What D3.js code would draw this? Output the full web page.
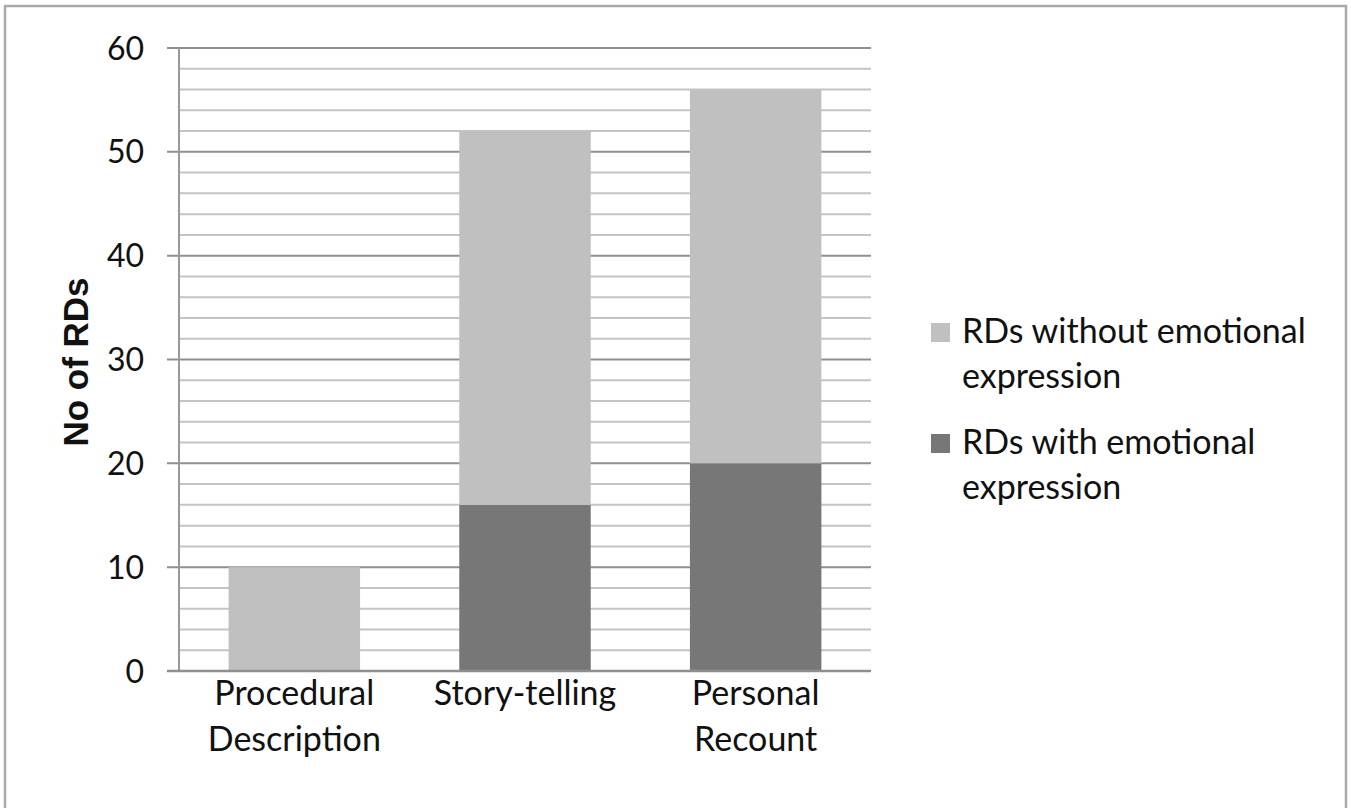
<!DOCTYPE html>
<html>
<head>
<meta charset="utf-8">
<script src="https://cdn.jsdelivr.net/npm/d3@7"></script>
<style>
  html, body { margin: 0; padding: 0; background: #fff; }
  svg { display: block; }
</style>
</head>
<body>
<svg id="chart"></svg>
<script>
const categories = [["Procedural", "Description"], ["Story-telling"], ["Personal", "Recount"]];
const withEmotion = [0, 16, 20];
const withoutEmotion = [10, 36, 36];
const seriesNames = ["RDs without emotional expression", "RDs with emotional expression"];
const yTicks = [0, 10, 20, 30, 40, 50, 60];

const width = 1351, height = 808;
const margin = { left: 179, right: 871, top: 48, bottom: 671 };

const svg = d3.select("#chart").attr("width", width).attr("height", height);

// outer frame
svg.append("rect")
  .attr("x", 5).attr("y", 6)
  .attr("width", 1341).attr("height", 820)
  .attr("fill", "white").attr("stroke", "#aaaaaa").attr("stroke-width", 2.5);

const y = d3.scaleLinear().domain([0, 60]).range([margin.bottom, margin.top]);
const x = d3.scaleBand()
  .domain(d3.range(categories.length))
  .range([margin.left, margin.right])
  .paddingInner(0.43).paddingOuter(0.215);

// minor gridlines every 2
svg.append("g").selectAll("line")
  .data(d3.range(0, 61, 2).filter(v => v % 10 !== 0))
  .join("line")
  .attr("x1", margin.left).attr("x2", margin.right)
  .attr("y1", d => y(d)).attr("y2", d => y(d))
  .attr("stroke", "#c4c4c4").attr("stroke-width", 2);

// major gridlines + ticks
svg.append("g").selectAll("line")
  .data(yTicks)
  .join("line")
  .attr("x1", margin.left - 12).attr("x2", margin.right)
  .attr("y1", d => y(d)).attr("y2", d => y(d))
  .attr("stroke", "#8f8f8f").attr("stroke-width", 2);

// bars
const stacks = categories.map((c, i) => [
  { y0: 0, y1: withEmotion[i], fill: "#777777" },
  { y0: withEmotion[i], y1: withEmotion[i] + withoutEmotion[i], fill: "#c0c0c0" }
]);
svg.append("g").selectAll("g")
  .data(stacks)
  .join("g")
  .selectAll("rect")
  .data((d, i) => d.map(s => ({ ...s, i })))
  .join("rect")
  .attr("x", d => x(d.i))
  .attr("width", x.bandwidth())
  .attr("y", d => y(d.y1))
  .attr("height", d => y(d.y0) - y(d.y1))
  .attr("fill", d => d.fill);

// y axis line
svg.append("line")
  .attr("x1", margin.left).attr("x2", margin.left)
  .attr("y1", margin.top).attr("y2", margin.bottom)
  .attr("stroke", "#999999").attr("stroke-width", 2);
// bottom axis line
svg.append("line")
  .attr("x1", margin.left - 12).attr("x2", margin.right)
  .attr("y1", margin.bottom).attr("y2", margin.bottom)
  .attr("stroke", "#8f8f8f").attr("stroke-width", 2.5);

// y tick labels
svg.append("g").selectAll("text")
  .data(yTicks)
  .join("text")
  .attr("x", 144).attr("y", d => y(d))
  .attr("dy", "0.36em")
  .attr("text-anchor", "end")
  .style("font-family", "Lato, sans-serif")
  .style("font-size", "32px")
  .attr("fill", "#111")
  .text(d => d);

// y axis title
svg.append("text")
  .attr("transform", "translate(88,362) rotate(-90)")
  .attr("text-anchor", "middle")
  .style("font-family", "'Liberation Sans', Arial, sans-serif")
  .style("font-weight", "bold")
  .style("font-size", "35px")
  .attr("fill", "#111")
  .text("No of RDs");

// category labels
const cat = svg.append("g").selectAll("text")
  .data(categories)
  .join("text")
  .attr("x", (d, i) => x(i) + x.bandwidth() / 2)
  .attr("text-anchor", "middle")
  .style("font-family", "Lato, sans-serif")
  .style("font-size", "34px")
  .attr("fill", "#111");
cat.selectAll("tspan")
  .data(d => d)
  .join("tspan")
  .attr("x", function () { return this.parentNode.getAttribute("x"); })
  .attr("y", (d, j) => 705 + j * 46)
  .text(d => d);

// legend
const legendColors = ["#c0c0c0", "#777777"];
const legendLines = [["RDs without emotional", "expression"], ["RDs with emotional", "expression"]];
const lg = svg.append("g").selectAll("g")
  .data(legendLines)
  .join("g")
  .attr("transform", (d, i) => `translate(0, ${i * 111})`);
lg.append("rect")
  .attr("x", 931).attr("y", 323)
  .attr("width", 19).attr("height", 19)
  .attr("fill", (d, i) => legendColors[i]);
lg.append("text")
  .style("font-family", "Lato, sans-serif")
  .style("font-size", "34px")
  .attr("fill", "#111")
  .selectAll("tspan")
  .data(d => d)
  .join("tspan")
  .attr("x", 962)
  .attr("y", (d, j) => 343 + j * 45)
  .text(d => d);
</script>
</body>
</html>
